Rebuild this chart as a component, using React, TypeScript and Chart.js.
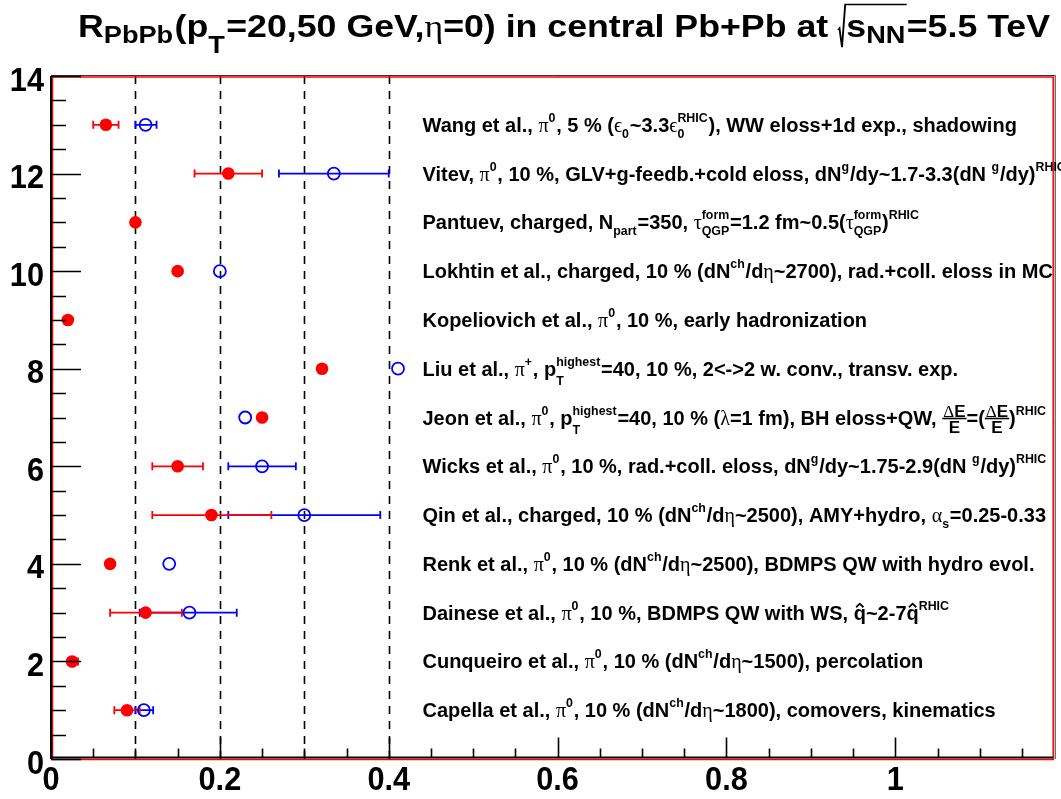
import React, { useEffect, useRef } from "react";
import { Chart, registerables } from "chart.js";

Chart.register(...registerables);

// ---------------- data ----------------
const titleText =
  "R_{PbPb}(p_{T}=20,50 GeV,#eta=0) in central Pb+Pb at #sqrt{s_{NN}}=5.5 TeV";

const modelRows = [13, 12, 11, 10, 9, 8, 7, 6, 5, 4, 3, 2, 1];
const modelLabels = [
  "Wang et al., #pi^{0}, 5 % (#epsilon_{0}~3.3#epsilon_{0}^{RHIC}), WW eloss+1d exp., shadowing",
  "Vitev, #pi^{0}, 10 %, GLV+g-feedb.+cold eloss, dN^{g}/dy~1.7-3.3(dN ^{g}/dy)^{RHIC}",
  "Pantuev, charged, N_{part}=350, #tau^{form}_{QGP}=1.2 fm~0.5(#tau^{form}_{QGP})^{RHIC}",
  "Lokhtin et al., charged, 10 % (dN^{ch}/d#eta~2700), rad.+coll. eloss in MC",
  "Kopeliovich et al., #pi^{0}, 10 %, early hadronization",
  "Liu et al., #pi^{+}, p_{T}^{highest}=40, 10 %, 2<->2 w. conv., transv. exp.",
  "Jeon et al., #pi^{0}, p_{T}^{highest}=40, 10 % (#lambda=1 fm), BH eloss+QW, #frac{#DeltaE}{E}=(#frac{#DeltaE}{E})^{RHIC}",
  "Wicks et al., #pi^{0}, 10 %, rad.+coll. eloss, dN^{g}/dy~1.75-2.9(dN ^{g}/dy)^{RHIC}",
  "Qin et al., charged, 10 % (dN^{ch}/d#eta~2500), AMY+hydro, #alpha_{s}=0.25-0.33",
  "Renk et al., #pi^{0}, 10 % (dN^{ch}/d#eta~2500), BDMPS QW with hydro evol.",
  "Dainese et al., #pi^{0}, 10 %, BDMPS QW with WS, #hat{q}~2-7#hat{q}^{RHIC}",
  "Cunqueiro et al., #pi^{0}, 10 % (dN^{ch}/d#eta~1500), percolation",
  "Capella et al., #pi^{0}, 10 % (dN^{ch}/d#eta~1800), comovers, kinematics",
];

// R_PbPb at pT = 20 GeV (red, filled)
const redRows = [13, 12, 11, 10, 9, 8, 7, 6, 5, 4, 3, 2, 1];
const redValues = [0.065, 0.21, 0.1, 0.15, 0.02, 0.321, 0.25, 0.15, 0.19, 0.07, 0.112, 0.025, 0.09];
const redLow = [0.05, 0.17, null, null, null, null, null, 0.12, 0.12, null, 0.07, 0.02, 0.075];
const redHigh = [0.08, 0.25, null, null, null, null, null, 0.18, 0.261, null, 0.155, 0.032, 0.105];

// R_PbPb at pT = 50 GeV (blue, open)
const blueRows = [13, 12, 10, 8, 7, 6, 5, 4, 3, 1];
const blueValues = [0.112, 0.335, 0.2, 0.411, 0.23, 0.25, 0.3, 0.14, 0.164, 0.11];
const blueLow = [0.1, 0.27, null, null, null, 0.21, 0.21, null, 0.105, 0.1];
const blueHigh = [0.125, 0.4, null, null, null, 0.29, 0.39, null, 0.22, 0.121];

const referenceLines = [0.1, 0.2, 0.3, 0.4];
const xTickLabels = ["0", "0.2", "0.4", "0.6", "0.8", "1"];
const yTickLabels = ["0", "2", "4", "6", "8", "10", "12", "14"];

// ---------------- TLatex-like renderer ----------------
type Node =
  | { k: "txt"; s: string; greek: boolean }
  | { k: "sup"; b: Node[] }
  | { k: "sub"; b: Node[]; deep: boolean }
  | { k: "ss"; sub: Node[]; sup: Node[]; deep: boolean }
  | { k: "frac"; n: Node[]; d: Node[] }
  | { k: "hat"; b: Node[] }
  | { k: "sqrt"; b: Node[] };

type Style = { small: number; sup: number; sub: number; subDeep: number };

const GREEK: Record<string, string> = {
  pi: "π",
  eta: "η",
  epsilon: "ϵ",
  tau: "τ",
  lambda: "λ",
  Delta: "Δ",
  alpha: "α",
};
const COMMANDS = ["frac", "hat", "sqrt", ...Object.keys(GREEK)].sort((a, b) => b.length - a.length);

function endsWithDescender(n: any): boolean {
  return !!n && n.k === "txt" && !n.greek && /[gjpqy]$/.test(n.s);
}

function parseLatex(src: string): Node[] {
  let i = 0;
  const group = (): Node[] => {
    i++;
    const nodes = seq("}");
    i++;
    return nodes;
  };
  const seq = (end: string | null): Node[] => {
    const out: Node[] = [];
    let buf = "";
    const flush = () => {
      if (buf) {
        out.push({ k: "txt", s: buf, greek: false });
        buf = "";
      }
    };
    while (i < src.length && src[i] !== end) {
      const c = src[i];
      if (c === "#") {
        const rest = src.slice(i + 1);
        const name = COMMANDS.find((cmd) => rest.startsWith(cmd)) ?? "";
        i = i + 1 + name.length;
        flush();
        if (name === "frac") {
          const n = group();
          const d = group();
          out.push({ k: "frac", n, d });
        } else if (name === "hat") out.push({ k: "hat", b: group() });
        else if (name === "sqrt") out.push({ k: "sqrt", b: group() });
        else out.push({ k: "txt", s: GREEK[name] ?? "#", greek: true });
      } else if ((c === "^" || c === "_") && src[i + 1] === "{") {
        flush();
        i++;
        const b = group();
        const kind = c === "^" ? "sup" : "sub";
        const prev: any = out[out.length - 1];
        if (prev && (prev.k === "sup" || prev.k === "sub") && prev.k !== kind) {
          out.pop();
          const before = out[out.length - 1];
          out.push({
            k: "ss",
            sub: kind === "sub" ? b : prev.b,
            sup: kind === "sup" ? b : prev.b,
            deep: endsWithDescender(before),
          });
        } else if (kind === "sub") {
          out.push({ k: "sub", b, deep: endsWithDescender(prev) });
        } else out.push({ k: "sup", b });
      } else {
        buf += c;
        i++;
      }
    }
    flush();
    return out;
  };
  return seq(null);
}

const SANS = "Arial, 'Liberation Sans', Helvetica, sans-serif";
const SERIF = "'Liberation Serif', 'DejaVu Serif', serif";

function runNodes(
  ctx: CanvasRenderingContext2D,
  nodes: Node[],
  x: number,
  y: number,
  size: number,
  st: Style,
  draw: boolean
): number {
  let cx = x;
  for (const n of nodes) {
    if (n.k === "txt") {
      ctx.font = n.greek ? `${size}px ${SERIF}` : `bold ${size}px ${SANS}`;
      const w = ctx.measureText(n.s).width;
      if (draw) ctx.fillText(n.s, cx, y);
      cx += w;
    } else if (n.k === "sup") {
      cx += runNodes(ctx, n.b, cx, y - st.sup * size, size * st.small, st, draw) + size * 0.04;
    } else if (n.k === "sub") {
      const d = n.deep ? st.subDeep : st.sub;
      cx += runNodes(ctx, n.b, cx, y + d * size, size * st.small, st, draw) + size * 0.04;
    } else if (n.k === "ss") {
      const d = n.deep ? st.subDeep : st.sub;
      const w1 = runNodes(ctx, n.sub, cx, y + d * size, size * st.small, st, draw);
      const w2 = runNodes(ctx, n.sup, cx, y - st.sup * size, size * st.small, st, draw);
      cx += Math.max(w1, w2) + size * 0.04;
    } else if (n.k === "frac") {
      const fs = size * 0.85;
      const wn = runNodes(ctx, n.n, 0, 0, fs, st, false);
      const wd = runNodes(ctx, n.d, 0, 0, fs, st, false);
      const w = Math.max(wn, wd) + size * 0.1;
      const lineY = y - size * 0.3;
      if (draw) {
        runNodes(ctx, n.n, cx + (w - wn) / 2, lineY - size * 0.1, fs, st, true);
        runNodes(ctx, n.d, cx + (w - wd) / 2, lineY + size * 0.72, fs, st, true);
        ctx.fillRect(cx, lineY - 0.8, w, 1.6);
      }
      cx += w;
    } else if (n.k === "hat") {
      const w = runNodes(ctx, n.b, cx, y, size, st, draw);
      if (draw) {
        ctx.save();
        ctx.lineWidth = size * 0.09;
        ctx.beginPath();
        ctx.moveTo(cx + w * 0.2, y - size * 0.62);
        ctx.lineTo(cx + w * 0.5, y - size * 0.8);
        ctx.lineTo(cx + w * 0.8, y - size * 0.62);
        ctx.stroke();
        ctx.restore();
      }
      cx += w;
    } else if (n.k === "sqrt") {
      const signW = size * 0.2;
      const bodyX = cx + signW + size * 0.03;
      const w = runNodes(ctx, n.b, bodyX, y, size, st, draw);
      if (draw) {
        const top = y - size * 1.05;
        ctx.save();
        ctx.lineWidth = 1.6;
        ctx.beginPath();
        ctx.moveTo(cx, y - size * 0.22);
        ctx.lineTo(cx + size * 0.04, y - size * 0.28);
        ctx.lineTo(cx + size * 0.11, y + size * 0.33);
        ctx.lineTo(cx + signW, top);
        ctx.lineTo(bodyX + w, top);
        ctx.stroke();
        ctx.restore();
      }
      cx = bodyX + w;
    }
  }
  return cx - x;
}

function drawLatex(
  ctx: CanvasRenderingContext2D,
  src: string,
  x: number,
  y: number,
  size: number,
  sx: number,
  st: Style,
  align: "left" | "center" | "right" = "left",
  fitWidth?: number
) {
  const nodes = parseLatex(src);
  ctx.save();
  ctx.textAlign = "left";
  ctx.textBaseline = "alphabetic";
  ctx.fillStyle = "#000";
  ctx.strokeStyle = "#000";
  const w = runNodes(ctx, nodes, 0, 0, size, st, false);
  const scaleX = fitWidth ? fitWidth / w : sx;
  const ww = w * scaleX;
  const start = align === "left" ? x : align === "center" ? x - ww / 2 : x - ww;
  ctx.translate(start, y);
  ctx.scale(scaleX, 1);
  runNodes(ctx, nodes, 0, 0, size, st, true);
  ctx.restore();
}

const LABEL_STYLE: Style = { small: 0.62, sup: 0.5, sub: 0.3, subDeep: 0.45 };
const TITLE_STYLE: Style = { small: 0.76, sup: 0.5, sub: 0.2, subDeep: 0.52 };
const TICK_STYLE: Style = { small: 0.7, sup: 0.5, sub: 0.3, subDeep: 0.45 };

// ---------------- plugins ----------------
function errorBars(
  chart: any,
  rows: number[],
  lo: (number | null)[],
  hi: (number | null)[],
  color: string
) {
  const { ctx } = chart;
  const xs = chart.scales.x;
  const ys = chart.scales.y;
  ctx.save();
  ctx.strokeStyle = color;
  ctx.lineWidth = 1.8;
  rows.forEach((r, i) => {
    const a = lo[i];
    const b = hi[i];
    if (a == null || b == null) return;
    const py = ys.getPixelForValue(r);
    const pa = xs.getPixelForValue(a);
    const pb = xs.getPixelForValue(b);
    ctx.beginPath();
    ctx.moveTo(pa, py);
    ctx.lineTo(pb, py);
    ctx.moveTo(pa, py - 4);
    ctx.lineTo(pa, py + 4);
    ctx.moveTo(pb, py - 4);
    ctx.lineTo(pb, py + 4);
    ctx.stroke();
  });
  ctx.restore();
}

const rootStyle = {
  id: "rootStyle",
  beforeDraw(chart: any) {
    const { ctx, width, height } = chart;
    ctx.save();
    ctx.fillStyle = "#fff";
    ctx.fillRect(0, 0, width, height);
    ctx.restore();
  },
  beforeDatasetsDraw(chart: any) {
    const { ctx, chartArea } = chart;
    const xs = chart.scales.x;
    ctx.save();
    ctx.strokeStyle = "#000";
    ctx.lineWidth = 1.6;
    ctx.setLineDash([8, 7]);
    referenceLines.forEach((v) => {
      const px = Math.round(xs.getPixelForValue(v)) + 0.5;
      ctx.beginPath();
      ctx.moveTo(px, chartArea.bottom);
      ctx.lineTo(px, chartArea.top);
      ctx.stroke();
    });
    ctx.restore();
    errorBars(chart, blueRows, blueLow, blueHigh, "rgb(0,0,255)");
    errorBars(chart, redRows, redLow, redHigh, "rgb(255,0,0)");
  },
  afterDraw(chart: any) {
    const { ctx, chartArea } = chart;
    const xs = chart.scales.x;
    const ys = chart.scales.y;
    const { left, right, top, bottom } = chartArea;

    // frame
    ctx.save();
    ctx.strokeStyle = "rgb(255,0,0)";
    ctx.lineWidth = 1.5;
    ctx.strokeRect(left + 1.5, top + 1, right - left - 1.5, bottom - top - 0.5);
    ctx.strokeStyle = "#000";
    ctx.lineWidth = 2;
    ctx.beginPath();
    ctx.moveTo(left, top);
    ctx.lineTo(left, bottom);
    ctx.moveTo(left, bottom - 1.5);
    ctx.lineTo(right, bottom - 1.5);
    ctx.stroke();
    ctx.lineWidth = 1;
    ctx.strokeStyle = "#333";
    ctx.beginPath();
    ctx.moveTo(left, top - 0.5);
    ctx.lineTo(right + 2, top - 0.5);
    ctx.moveTo(right + 2, top - 0.5);
    ctx.lineTo(right + 2, bottom);
    ctx.stroke();

    // ticks
    ctx.strokeStyle = "#000";
    ctx.lineWidth = 1.6;
    ctx.beginPath();
    for (let k = 0; k * 0.05 <= xs.max + 1e-9; k++) {
      const v = k * 0.05;
      const px = Math.round(xs.getPixelForValue(v)) + 0.5;
      const len = k % 4 === 0 ? 20 : 9;
      ctx.moveTo(px, bottom - 1.5);
      ctx.lineTo(px, bottom - 1.5 - len);
    }
    for (let k = 0; k * 0.5 <= ys.max + 1e-9; k++) {
      const v = k * 0.5;
      const py = Math.round(ys.getPixelForValue(v)) + 0.5;
      const len = k % 4 === 0 ? 30 : 15;
      ctx.moveTo(left, py);
      ctx.lineTo(left + len, py);
    }
    ctx.stroke();
    ctx.restore();

    // tick labels
    xTickLabels.forEach((t) => {
      const v = parseFloat(t);
      drawLatex(ctx, t, xs.getPixelForValue(v), bottom + 31, 33, 0.93, TICK_STYLE, "center");
    });
    yTickLabels.forEach((t) => {
      const v = parseFloat(t);
      drawLatex(ctx, t, left - 7, ys.getPixelForValue(v) + 14.5, 33, 0.93, TICK_STYLE, "right");
    });

    // model labels
    modelRows.forEach((r, i) => {
      drawLatex(ctx, modelLabels[i], xs.getPixelForValue(0.44), ys.getPixelForValue(r) + 7, 20, 1.0, LABEL_STYLE, "left");
    });

    // title
    drawLatex(ctx, titleText, 78, 37, 31, 1, TITLE_STYLE, "left", 972);
  },
};

export default function App() {
  const ref = useRef<HTMLCanvasElement | null>(null);
  useEffect(() => {
    const canvas = ref.current;
    if (!canvas) return;
    const chart = new Chart(canvas, {
      type: "scatter",
      data: {
        datasets: [
          {
            label: "pT = 20 GeV",
            data: redValues.map((x, i) => ({ x, y: redRows[i] })),
            backgroundColor: "rgb(255,0,0)",
            borderColor: "rgb(255,0,0)",
            borderWidth: 0,
            pointRadius: 6.3,
            pointHoverRadius: 6.3,
            pointStyle: "circle",
            showLine: false,
          },
          {
            label: "pT = 50 GeV",
            data: blueValues.map((x, i) => ({ x, y: blueRows[i] })),
            backgroundColor: "rgba(0,0,0,0)",
            borderColor: "rgb(0,0,255)",
            borderWidth: 1.8,
            pointRadius: 6,
            pointHoverRadius: 6,
            pointStyle: "circle",
            showLine: false,
          },
        ],
      },
      options: {
        animation: false,
        responsive: false,
        events: [],
        layout: { padding: { left: 51, right: 5, top: 76, bottom: 40 } },
        scales: {
          x: { type: "linear", min: 0, max: 1.187, display: false },
          y: { type: "linear", min: 0, max: 14, display: false },
        },
        plugins: {
          legend: { display: false },
          tooltip: { enabled: false },
          title: { display: false },
        },
      },
      plugins: [rootStyle],
    });
    return () => chart.destroy();
  }, []);
  return (
    <div style={{ position: "absolute", left: 0, top: 0, width: 1061, height: 799, background: "#fff" }}>
      <canvas ref={ref} width={1061} height={799} />
    </div>
  );
}
